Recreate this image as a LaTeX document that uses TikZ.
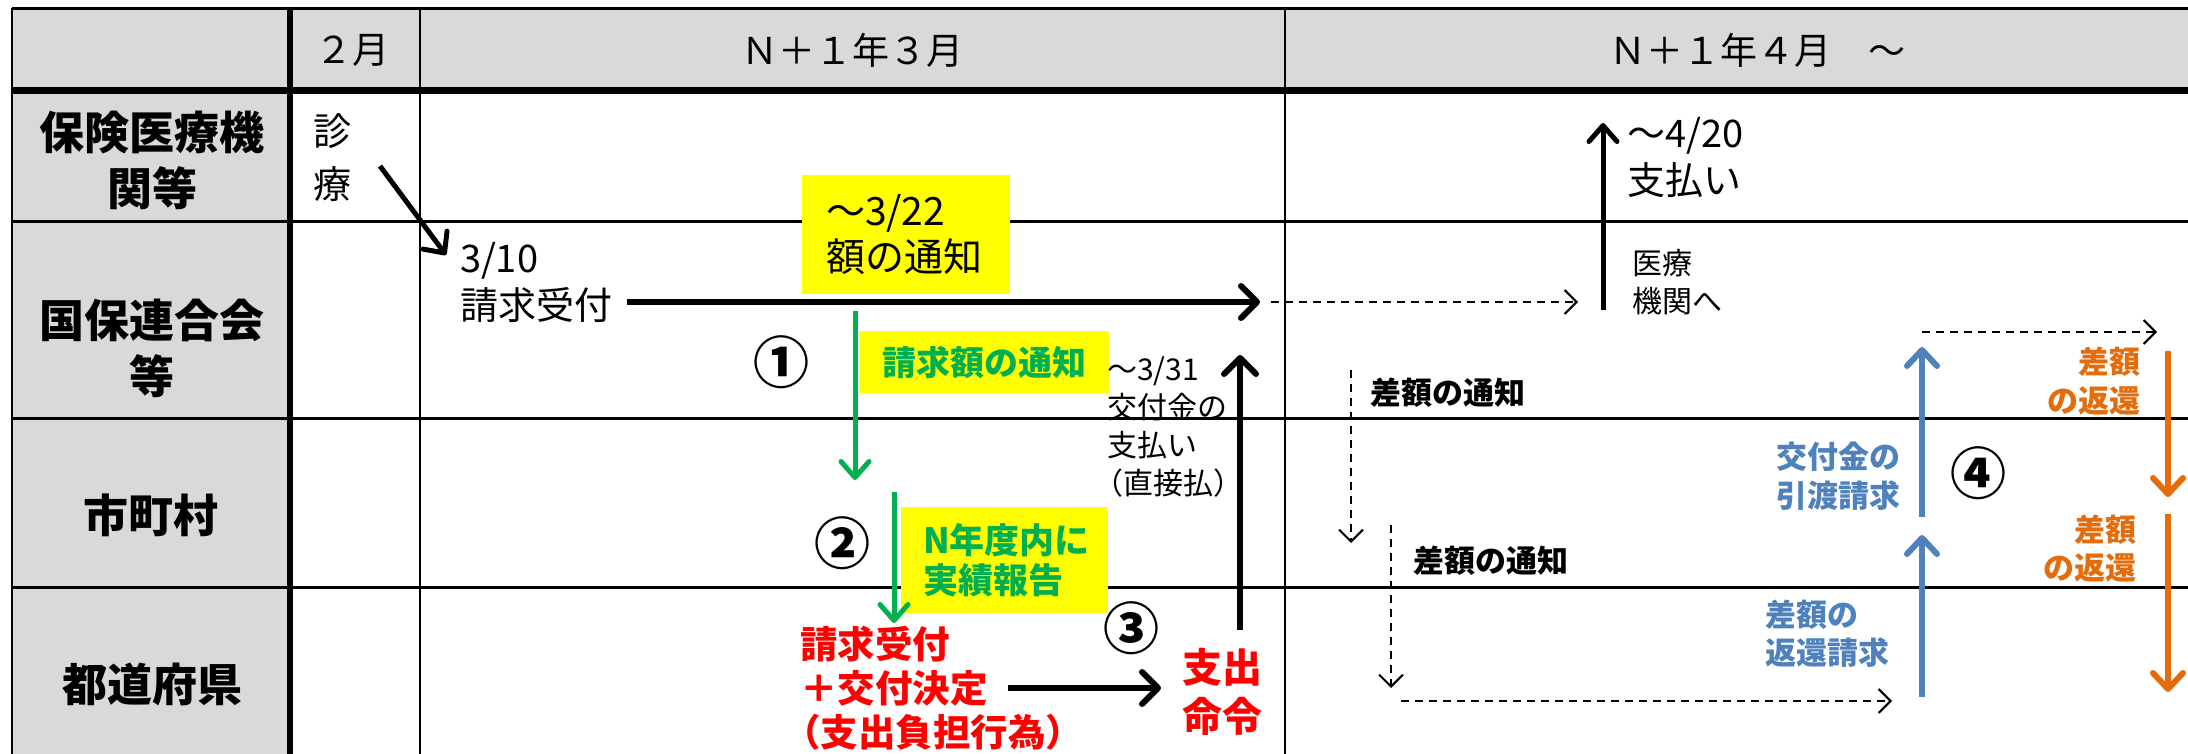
\documentclass[tikz,border=0pt]{standalone}
\usepackage{fontspec}
\setmainfont{Noto Sans CJK JP}
\usetikzlibrary{arrows.meta}
\definecolor{hdrgray}{HTML}{D9D9D9}
\definecolor{ygreen}{HTML}{00B050}
\definecolor{sblue}{HTML}{4F81BD}
\definecolor{dorange}{HTML}{E46C0A}
\definecolor{bred}{HTML}{FF0000}
\definecolor{byellow}{HTML}{FFFF00}
\begin{document}
\begin{tikzpicture}[x=1pt,y=-1pt,
  every node/.style={inner sep=0pt,outer sep=0pt},
  thinl/.style={line width=2.5pt},
  rowl/.style={line width=3pt},
  hdr/.style={font=\fontsize{37}{44}\selectfont},
  rowlbl/.style={font=\bfseries\fontsize{45}{56}\selectfont,align=center},
  plain/.style={align=left,anchor=west},
  circnum/.style={font=\bfseries\fontsize{56}{60}\selectfont},
  ybox/.style={fill=byellow},
  blkarr/.style={line width=6pt,-{Straight Barb[length=16pt,width=32pt,round]}},
  grnarr/.style={draw=ygreen,line width=5pt,-{Straight Barb[length=16pt,width=28pt,round]}},
  bluarr/.style={draw=sblue,line width=6pt,-{Straight Barb[length=16pt,width=30pt,round]}},
  orgarr/.style={draw=dorange,line width=6pt,-{Straight Barb[length=16pt,width=30pt,round]}},
  dsharr/.style={line width=2pt,dash pattern=on 8pt off 6pt,-{Straight Barb[length=12pt,width=24pt]}}
]
\useasboundingbox (0,0) rectangle (2188,754);
\clip (0,0) rectangle (2188,754);
\fill[white] (0,0) rectangle (2188,754);
% backgrounds
\fill[hdrgray] (12,8.5) rectangle (2260,91);
\fill[hdrgray] (12,91) rectangle (290,800);
% grid
\draw[thinl] (12,8.5) -- (2260,8.5);
\draw[thinl] (12,8.5) -- (12,800);
\draw[line width=6pt] (290,8.5) -- (290,800);
\draw[thinl] (420,8.5) -- (420,800);
\draw[thinl] (1285,8.5) -- (1285,800);
\draw[rowl] (12,222) -- (2260,222);
\draw[rowl] (12,418) -- (2260,418);
\draw[rowl] (12,587) -- (2260,587);
\draw[line width=7pt] (12,91) -- (2260,91);

% headers
\node[hdr] (h2) at (352,50) {２月};
\node[hdr] (h3) at (852,50) {Ｎ＋１年３月};
\node[hdr] (h4) at (1757,50) {Ｎ＋１年４月　～};

% row labels
\node[rowlbl] (r1) at (152,160) {保険医療機\\関等};
\node[rowlbl] (r2) at (152,348) {国保連合会\\等};
\node[rowlbl] (r3) at (151,515) {市町村};
\node[rowlbl] (r4) at (152,684) {都道府県};

% yellow boxes
\node[ybox,anchor=north west,text width=160pt,inner xsep=24pt,minimum height=119pt,align=left,
      font=\fontsize{39}{46}\selectfont] (yb1) at (802,175) {～3/22\\額の通知};
\node[ybox,anchor=north west,minimum width=250pt,minimum height=62pt,
      font=\bfseries\fontsize{34}{40}\selectfont,text=ygreen] (yb2) at (859,331) {請求額の通知};
\node[ybox,anchor=north west,text width=163pt,inner xsep=22pt,minimum height=106pt,align=left,
      font=\bfseries\fontsize{35}{40}\selectfont,text=ygreen] (yb3) at (901,507) {N年度内に\\実績報告};

% texts
\node[plain,font=\fontsize{38}{53}\selectfont] (shin) at (313,158) {診\\療};
\node[plain,font=\fontsize{38}{47}\selectfont] (uke) at (460,282) {3/10\\請求受付};
\node[plain,font=\bfseries\fontsize{37.5}{44}\selectfont,text=bred] (ken) at (800,688) {請求受付\\＋交付決定\\\kern-0.45em（支出負担行為）};
\node[font=\bfseries\fontsize{40}{49}\selectfont,text=bred,align=center] (shi) at (1222,692) {支出\\命令};
\node[plain,font=\fontsize{30}{38}\selectfont] (kofu) at (1107,427) {～3/31\\交付金の\\支払い\\\kern-0.45em（直接払）};
\node[plain,font=\fontsize{38}{47}\selectfont] (pay) at (1627,157) {～4/20\\支払い};
\node[plain,font=\fontsize{30}{38}\selectfont] (iryo) at (1632,282) {医療\\機関へ};
\node[plain,font=\bfseries\fontsize{31}{38}\selectfont] (sa1) at (1370,393) {差額の通知};
\node[plain,font=\bfseries\fontsize{31}{38}\selectfont] (sa2) at (1413,561) {差額の通知};
\node[anchor=east,align=right,font=\bfseries\fontsize{31}{39}\selectfont,text=sblue] (hiki) at (1900,476) {交付金の\\引渡請求};
\node[plain,font=\bfseries\fontsize{31}{38}\selectfont,text=sblue] (hen) at (1765,634) {差額の\\返還請求};
\node[anchor=east,align=right,font=\bfseries\fontsize{31}{39}\selectfont,text=dorange] (or1) at (2140,381) {差額\\の返還};
\node[anchor=east,align=right,font=\bfseries\fontsize{31}{38}\selectfont,text=dorange] (or2) at (2136,549) {差額\\の返還};

% circled numbers
\node[circnum] (c1) at (781,362) {①};
\node[circnum] (c2) at (842,543) {②};
\node[circnum] (c3) at (1131,628) {③};
\node[circnum] (c4) at (1978,473) {④};

% arrow end points
\coordinate (d1s) at (380,166);  \coordinate (d1e) at (446,255);
\coordinate (m1s) at (627,302);  \coordinate (m1e) at (1260,302);
\coordinate (m2s) at (1271,302); \coordinate (m2e) at (1578,302);
\coordinate (g1s) at (855,311);  \coordinate (g1e) at (855,480);
\coordinate (g2s) at (894,492);  \coordinate (g2e) at (894,623);
\coordinate (s1s) at (1008,688); \coordinate (s1e) at (1161,688);
\coordinate (v1s) at (1240,630); \coordinate (v1e) at (1240,355);
\coordinate (p1s) at (1603,310); \coordinate (p1e) at (1603,123);
\coordinate (dv1s) at (1351,370); \coordinate (dv1e) at (1351,543);
\coordinate (dv2s) at (1391,525); \coordinate (dv2e) at (1391,688);
\coordinate (dh1s) at (1401,701); \coordinate (dh1e) at (1892,701);
\coordinate (dh2s) at (1922,332); \coordinate (dh2e) at (2157,332);
\coordinate (b1s) at (1922,517); \coordinate (b1e) at (1922,347);
\coordinate (b2s) at (1922,697); \coordinate (b2e) at (1922,535);
\coordinate (o1s) at (2168,351); \coordinate (o1e) at (2168,497);
\coordinate (o2s) at (2168,514); \coordinate (o2e) at (2168,692);

% arrows
\draw[line width=5pt,-{Straight Barb[length=16pt,width=30pt,round]}] (d1s) -- (d1e);
\draw[blkarr] (m1s) -- (m1e);
\draw[dsharr] (m2s) -- (m2e);
\draw[grnarr] (g1s) -- (g1e);
\draw[grnarr] (g2s) -- (g2e);
\draw[blkarr] (s1s) -- (s1e);
\draw[blkarr] (v1s) -- (v1e);
\draw[line width=5pt,-{Straight Barb[length=16pt,width=28pt,round]}] (p1s) -- (p1e);
\draw[dsharr] (dv1s) -- (dv1e);
\draw[dsharr] (dv2s) -- (dv2e);
\draw[dsharr] (dh1s) -- (dh1e);
\draw[dsharr] (dh2s) -- (dh2e);
\draw[bluarr] (b1s) -- (b1e);
\draw[bluarr] (b2s) -- (b2e);
\draw[orgarr] (o1s) -- (o1e);
\draw[orgarr] (o2s) -- (o2e);
\end{tikzpicture}
\end{document}
